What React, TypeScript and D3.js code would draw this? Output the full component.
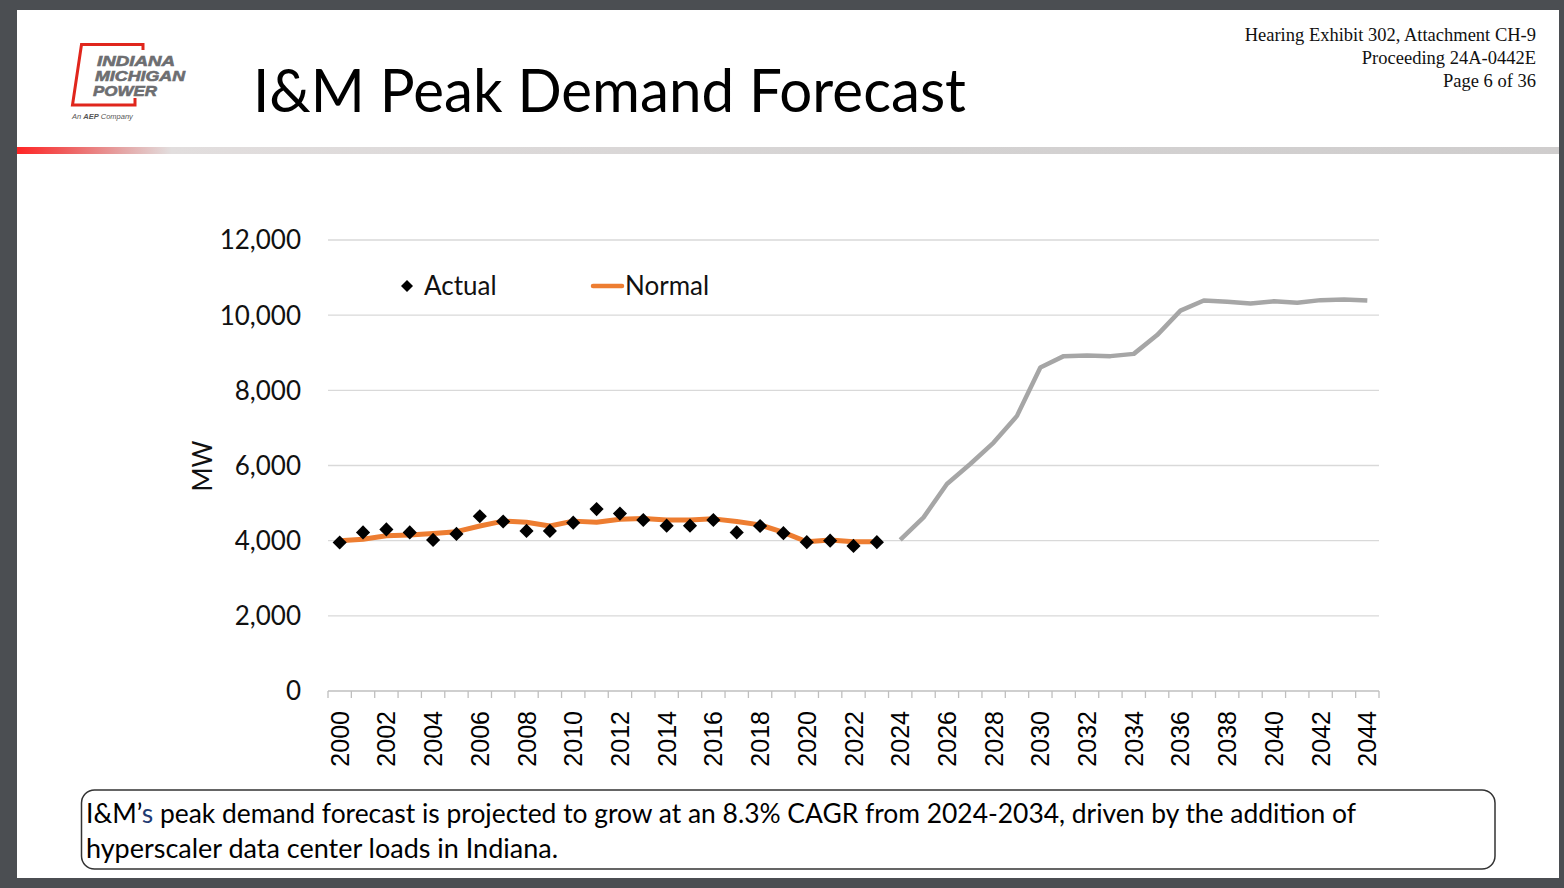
import * as d3 from "d3"

const histYears = d3.range(2000, 2024)
const actual = [3950, 4220, 4300, 4220, 4020, 4180, 4650, 4510, 4260, 4260, 4480, 4840,
    4720, 4550, 4400, 4400, 4550, 4220, 4390, 4200, 3960, 4000, 3860, 3960]
const normal = [4000, 4040, 4130, 4150, 4190, 4240, 4390, 4520, 4490, 4390, 4520, 4490,
    4570, 4590, 4550, 4550, 4580, 4510, 4420, 4220, 3970, 4020, 3970, 3970]
const forecastYears = d3.range(2024, 2045)
const forecast = [4020, 4620, 5510, 6040, 6610, 7320, 8610, 8910, 8930, 8910, 8970, 9470,
    10120, 10390, 10360, 10310, 10370, 10330, 10400, 10420, 10390]
const yTicks = [0, 2000, 4000, 6000, 8000, 10000, 12000]
const headerLines = ["Hearing Exhibit 302, Attachment CH-9", "Proceeding 24A-0442E", "Page 6 of 36"]

const W = 1564
const H = 888

export default function App() {
    const allYears = d3.range(2000, 2045)
    const x = d3.scaleBand<number>().domain(allYears).range([328, 1379])
    const cx = (yr: number) => (x(yr) ?? 0) + x.bandwidth() / 2
    const y = d3.scaleLinear().domain([0, 12000]).range([691, 240])

    const line = d3.line<[number, number]>().x(d => cx(d[0])).y(d => y(d[1]))
    const normalPath = line(histYears.map((yr, i) => [yr, normal[i]]))
    const forecastPath = line(forecastYears.map((yr, i) => [yr, forecast[i]]))
    const diamond = d3.symbol(d3.symbolSquare, 100)()

    const lato = "Lato, 'Noto Sans', sans-serif"
    const ticksX = allYears.map(yr => x(yr) ?? 0).concat([1379])

    return (
        <svg width={W} height={H} style={{ position: "absolute", left: 0, top: 0 }}>
            <defs>
                <linearGradient id="bar" x1="17" x2="1559" y1="0" y2="0" gradientUnits="userSpaceOnUse">
                    <stop offset="0" stopColor="#ff2525" />
                    <stop offset="0.03" stopColor="#f05a5a" />
                    <stop offset="0.07" stopColor="#e4a8a8" />
                    <stop offset="0.1" stopColor="#e2dede" />
                    <stop offset="0.6" stopColor="#d4d2d2" />
                    <stop offset="1" stopColor="#cfcdcd" />
                </linearGradient>
            </defs>
            <rect width={W} height={H} fill="#4b4e52" />
            <rect x={17} y={10} width={1542} height={868} fill="#ffffff" />
            <rect x={17} y={147} width={1542} height={7} fill="url(#bar)" />

            {/* logo */}
            <path d="M143,50 L143,44.5 L81.5,44.5 L72.5,105 L135,105 L135,98" fill="none" stroke="#e0261c" strokeWidth={3} />
            <g fontFamily="'Liberation Sans', Arial, sans-serif" fontWeight="bold" fontStyle="italic" fill="#6d6e71" fontSize={14.5} stroke="#6d6e71" strokeWidth={0.6}>
                <text x={97} y={66} textLength={78} lengthAdjust="spacingAndGlyphs">INDIANA</text>
                <text x={95} y={81} textLength={90} lengthAdjust="spacingAndGlyphs">MICHIGAN</text>
                <text x={93} y={96} textLength={64} lengthAdjust="spacingAndGlyphs">POWER</text>
            </g>
            <text x={72} y={119} fontFamily="'Liberation Sans', Arial, sans-serif" fontSize={7.5} fontStyle="italic" fill="#555">
                An <tspan fontWeight="bold">AEP</tspan> Company
            </text>

            <text x={253} y={112} fontFamily={lato} fontSize={60} fill="#000" textLength={713} lengthAdjust="spacingAndGlyphs">I&amp;M Peak Demand Forecast</text>

            <g fontFamily="'Liberation Serif', 'DejaVu Serif', serif" fontSize={18.5} fill="#111" textAnchor="end">
                {headerLines.map((t, i) => (
                    <text key={t} x={1536} y={41 + i * 23}>{t}</text>
                ))}
            </g>

            {/* gridlines */}
            {yTicks.filter(v => v > 0).map(v => (
                <line key={v} x1={328} x2={1379} y1={y(v)} y2={y(v)} stroke="#d9d9d9" strokeWidth={1.3} />
            ))}
            <line x1={328} x2={1379} y1={y(0)} y2={y(0)} stroke="#bfbfbf" strokeWidth={1.3} />
            {ticksX.map((tx, i) => (
                <line key={i} x1={tx} x2={tx} y1={y(0)} y2={y(0) + 7} stroke="#bfbfbf" strokeWidth={1.3} />
            ))}

            <g fontFamily={lato} fontSize={26} fill="#111" textAnchor="end">
                {yTicks.map(v => (
                    <text key={v} x={301} y={y(v)} dy="0.36em">{d3.format(",")(v)}</text>
                ))}
            </g>
            <text transform="translate(203,466) rotate(-90)" textAnchor="middle" dy="0.36em" fontFamily={lato} fontSize={26} fill="#111">MW</text>

            <g fontFamily="'Liberation Sans', Arial, sans-serif" fontSize={25} fill="#000">
                {allYears.filter(yr => yr % 2 === 0).map(yr => (
                    <text key={yr} transform={`translate(${cx(yr)},711) rotate(-90)`} textAnchor="end" dy="0.36em">{yr}</text>
                ))}
            </g>

            <path d={forecastPath ?? ""} fill="none" stroke="#a6a6a6" strokeWidth={4.5} strokeLinejoin="round" />
            <path d={normalPath ?? ""} fill="none" stroke="#ed7d31" strokeWidth={5} strokeLinejoin="round" />
            {histYears.map((yr, i) => (
                <path key={yr} d={diamond ?? ""} transform={`translate(${cx(yr)},${y(actual[i])}) rotate(45)`} fill="#000" />
            ))}

            {/* legend */}
            <path d={d3.symbol(d3.symbolSquare, 72)() ?? ""} transform="translate(407,286) rotate(45)" fill="#000" />
            <text x={424} y={286} dy="0.36em" fontFamily={lato} fontSize={26} fill="#111">Actual</text>
            <line x1={593} x2={622} y1={286} y2={286} stroke="#ed7d31" strokeWidth={4.5} strokeLinecap="round" />
            <text x={625} y={286} dy="0.36em" fontFamily={lato} fontSize={26} fill="#111">Normal</text>

            {/* note box */}
            <rect x={81.5} y={790} width={1413.5} height={79} rx={13} fill="#fff" stroke="#333" strokeWidth={1.5} />
            <g fontFamily={lato} fontSize={26} fill="#000">
                <text x={86} y={823} textLength={1270} lengthAdjust="spacingAndGlyphs">
                    I&amp;M’<tspan fill="#1f3b73">s</tspan> peak demand forecast is projected to grow at an 8.3% CAGR from 2024-2034, driven by the addition of
                </text>
                <text x={86} y={858} textLength={472} lengthAdjust="spacingAndGlyphs">hyperscaler data center loads in Indiana.</text>
            </g>
        </svg>
    )
}
